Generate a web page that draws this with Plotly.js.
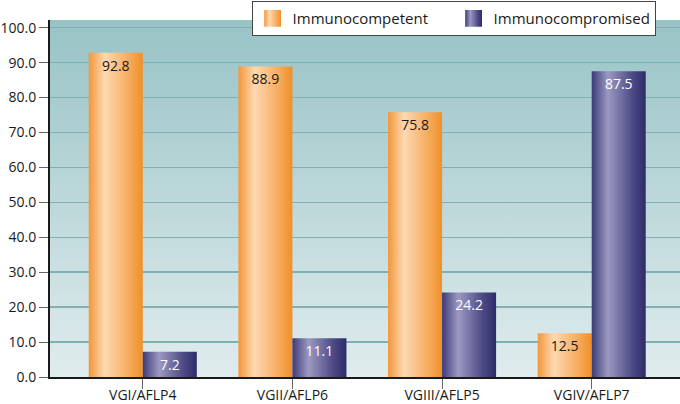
<!DOCTYPE html>
<html>
<head>
<meta charset="utf-8">
<script src="https://cdn.plot.ly/plotly-3.0.1.min.js"></script>
<style>
html,body{margin:0;padding:0;background:#fff;}
#chart{width:680px;height:404px;}
</style>
</head>
<body>
<div id="chart"></div>
<script>
const categories = ["VGI/AFLP4", "VGII/AFLP6", "VGIII/AFLP5", "VGIV/AFLP7"];
const immunocompetent = [92.8, 88.9, 75.8, 12.5];
const immunocompromised = [7.2, 11.1, 24.2, 87.5];
const seriesNames = ["Immunocompetent", "Immunocompromised"];

const FONT = '"Open Sans", "DejaVu Sans", sans-serif';

const bgSvg = '<svg xmlns="http://www.w3.org/2000/svg" width="10" height="100" preserveAspectRatio="none">' +
  '<defs><linearGradient id="g" x1="0" y1="0" x2="0" y2="1">' +
  '<stop offset="0" stop-color="#98c3c5"/><stop offset="1" stop-color="#e0ecee"/></linearGradient></defs>' +
  '<rect width="10" height="100" fill="url(#g)"/></svg>';
const bgUri = 'data:image/svg+xml;base64,' + btoa(bgSvg);

const traces = [
  {
    type: 'bar', name: seriesNames[0], x: categories, y: immunocompetent,
    text: immunocompetent.map(v => v.toFixed(1)),
    textposition: 'inside', insidetextanchor: 'end', constraintext: 'none',
    textfont: {family: FONT, size: 14, color: '#1a1a1a'},
    marker: {color: '#f39a3a', line: {width: 0}},
    hoverinfo: 'skip'
  },
  {
    type: 'bar', name: seriesNames[1], x: categories, y: immunocompromised,
    text: immunocompromised.map(v => v.toFixed(1)),
    textposition: 'inside', insidetextanchor: 'end', constraintext: 'none',
    textfont: {family: FONT, size: 14, color: '#ffffff'},
    marker: {color: '#3d3b78', line: {width: 0}},
    hoverinfo: 'skip'
  }
];

const layout = {
  width: 680, height: 404,
  margin: {l: 50, r: 0, t: 20, b: 27, pad: 0},
  paper_bgcolor: '#ffffff',
  plot_bgcolor: 'rgba(0,0,0,0)',
  font: {family: FONT, size: 14, color: '#1a1a1a'},
  barmode: 'group', bargap: 0.278, bargroupgap: 0,
  showlegend: true,
  legend: {
    orientation: 'h', x: 0.32, y: 1.053, xanchor: 'left', yanchor: 'top',
    bgcolor: '#ffffff', bordercolor: '#444444', borderwidth: 1,
    font: {family: FONT, size: 15, color: '#1a1a1a'},
    entrywidth: 156, entrywidthmode: 'pixels', traceorder: 'normal'
  },
  xaxis: {
    range: [-0.62, 3.59], fixedrange: true,
    showline: true, linecolor: '#1a1a1a', linewidth: 2,
    ticks: 'outside', ticklen: 10, tickcolor: '#666666', tickwidth: 1,
    ticklabelstandoff: -6,
    tickfont: {family: FONT, size: 14, color: '#1a1a1a'},
    showgrid: false, zeroline: false
  },
  yaxis: {
    range: [0, 102.2], dtick: 10, tick0: 0, tickformat: '.1f', fixedrange: true,
    showline: true, linecolor: '#1a1a1a', linewidth: 2,
    ticks: 'outside', ticklen: 9, tickcolor: '#666666', tickwidth: 1,
    tickfont: {family: FONT, size: 14, color: '#1a1a1a'},
    showgrid: true, gridcolor: '#7fb1b3', gridwidth: 1.5, zeroline: false
  },
  images: [{
    source: bgUri, xref: 'paper', yref: 'paper', x: 0, y: 1,
    sizex: 1, sizey: 1, sizing: 'stretch', layer: 'below', xanchor: 'left', yanchor: 'top'
  }]
};

Plotly.newPlot('chart', traces, layout, {displayModeBar: false, staticPlot: true}).then(function (gd) {
  const svg = gd.querySelector('svg.main-svg');
  const ns = 'http://www.w3.org/2000/svg';
  let defs = svg.querySelector('defs');
  if (!defs) { defs = document.createElementNS(ns, 'defs'); svg.insertBefore(defs, svg.firstChild); }
  function addGrad(id, stops) {
    const g = document.createElementNS(ns, 'linearGradient');
    g.setAttribute('id', id);
    g.setAttribute('x1', '0'); g.setAttribute('y1', '0');
    g.setAttribute('x2', '1'); g.setAttribute('y2', '0');
    stops.forEach(function (s) {
      const st = document.createElementNS(ns, 'stop');
      st.setAttribute('offset', s[0]);
      st.setAttribute('stop-color', s[1]);
      g.appendChild(st);
    });
    defs.appendChild(g);
  }
  addGrad('gradOrange', [[0, '#f3963a'], [0.3, '#fdd9b2'], [0.75, '#f6ab5c'], [1, '#f08f28']]);
  addGrad('gradPurple', [[0, '#3b3a78'], [0.3, '#9c99c2'], [0.75, '#4d4a86'], [1, '#2e2c68']]);
  const grads = ['url(#gradOrange)', 'url(#gradPurple)'];
  gd.querySelectorAll('.barlayer .trace').forEach(function (tr, i) {
    tr.querySelectorAll('.point path').forEach(function (p) { p.style.fill = grads[i]; });
  });
  gd.querySelectorAll('.legend .traces').forEach(function (tr, i) {
    tr.querySelectorAll('.legendpoints path').forEach(function (p) {
      p.style.fill = grads[i];
      const t = p.getAttribute('transform') || '';
      p.setAttribute('transform', t + ' scale(1.4)');
    });
  });
});
</script>
</body>
</html>
